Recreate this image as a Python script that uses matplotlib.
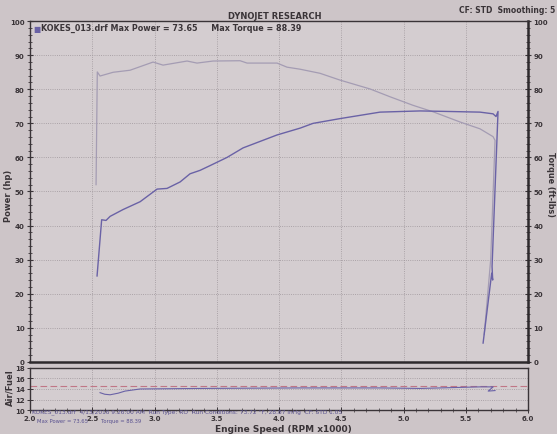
import matplotlib.pyplot as plt
from matplotlib.ticker import MultipleLocator

# engine speed in RPM x1000
torque_rpm = [2.53, 2.54, 2.562, 2.667, 2.803, 2.988, 3.068, 3.261, 3.341, 3.47, 3.687, 3.743,
              3.984, 4.064, 4.169, 4.329, 4.49, 4.731, 4.892, 5.076, 5.237, 5.454, 5.614, 5.719,
              5.735, 5.70, 5.648]
torque_val = [52.0, 85.1, 83.9, 85.0, 85.6, 88.0, 87.1, 88.3, 87.7, 88.3, 88.39, 87.7,
              87.7, 86.5, 85.9, 84.7, 82.7, 80.1, 77.8, 75.3, 73.4, 70.4, 68.4, 66.1,
              65.0, 30.0, 8.0]

power_rpm = [2.538, 2.575, 2.61, 2.643, 2.747, 2.884, 3.02, 3.10, 3.205, 3.285, 3.365, 3.446,
             3.582, 3.711, 3.984, 4.169, 4.273, 4.49, 4.811, 5.133, 5.349, 5.614, 5.719,
             5.743, 5.759, 5.711, 5.716, 5.708, 5.639]
power_val = [25.2, 41.7, 41.5, 42.7, 44.7, 47.0, 50.7, 50.9, 52.8, 55.2, 56.2, 57.6,
             60.0, 62.8, 66.6, 68.6, 70.0, 71.4, 73.3, 73.65, 73.5, 73.3, 72.8,
             72.0, 73.5, 28.0, 24.0, 26.0, 5.5]

afr_rpm = [2.562, 2.60, 2.643, 2.707, 2.763, 2.884, 3.365, 4.169, 4.811, 5.133, 5.454, 5.614,
           5.72, 5.68, 5.735]
afr_val = [13.3, 13.0, 12.9, 13.2, 13.6, 14.0, 14.1, 14.2, 14.2, 14.1, 14.3, 14.4,
           14.4, 13.6, 13.7]
afr_target = 14.6

paper = '#cdc5c8'
ink = '#3a3438'
pw_col = '#6a62a6'
tq_col = '#a49cb3'
grid_col = '#9d959a'

fig = plt.figure(figsize=(5.57, 4.35), dpi=100)
fig.patch.set_facecolor(paper)

ax = fig.add_axes([0.054, 0.166, 0.894, 0.783])
ax.set_facecolor('#d4cdd0')
ax.plot(torque_rpm, torque_val, color=tq_col, lw=0.9)
ax.plot(power_rpm, power_val, color=pw_col, lw=1.0)
ax.set_xlim(2.0, 6.0)
ax.set_ylim(0, 100)
ax.xaxis.set_major_locator(MultipleLocator(0.5))
ax.yaxis.set_major_locator(MultipleLocator(10))
ax.yaxis.set_minor_locator(MultipleLocator(2))
ax.grid(True, which='major', ls=':', color=grid_col, lw=0.6)
ax.tick_params(axis='x', bottom=False, labelbottom=False)
ax.tick_params(axis='y', which='both', direction='inout', left=True, right=True,
               labelleft=True, labelright=True, labelsize=5, colors=ink, pad=1.5)
ax.tick_params(axis='y', which='major', length=5, width=0.8)
ax.tick_params(axis='y', which='minor', length=3, width=0.6)
for lab in ax.get_yticklabels():
    lab.set_fontweight('bold')
for s in ['top', 'left']:
    ax.spines[s].set_color(ink)
    ax.spines[s].set_linewidth(1.0)
for s in ['bottom', 'right']:
    ax.spines[s].set_color('#2e2a2d')
    ax.spines[s].set_linewidth(1.8)

ax.text(0.006, 0.993, '\u25a0', transform=ax.transAxes, fontsize=5.5, color=pw_col,
        va='top', ha='left')
ax.text(0.022, 0.995, 'KOKES_013.drf Max Power = 73.65     Max Torque = 88.39',
        transform=ax.transAxes, fontsize=5.8, fontweight='bold', color=ink, va='top', ha='left')

fig.text(0.015, 0.55, 'Power (hp)', rotation=90, fontsize=6, fontweight='bold', color=ink,
         ha='center', va='center')
fig.text(0.988, 0.575, 'Torque (ft-lbs)', rotation=270, fontsize=5.8, fontweight='bold',
         color=ink, ha='center', va='center')
fig.text(0.494, 0.961, 'DYNOJET RESEARCH', fontsize=6, fontweight='bold', color=ink,
         ha='center', va='center')
fig.text(0.997, 0.977, 'CF: STD  Smoothing: 5', fontsize=5.5, fontweight='bold', color=ink,
         ha='right', va='center')

# air/fuel panel
ax2 = fig.add_axes([0.054, 0.055, 0.894, 0.097])
ax2.set_facecolor('#d4cdd0')
ax2.axhline(afr_target, color='#c07686', lw=0.8, ls=(0, (6, 3)))
ax2.plot(afr_rpm, afr_val, color=pw_col, lw=0.8)
ax2.set_xlim(2.0, 6.0)
ax2.set_ylim(10, 18)
ax2.set_yticks([10, 12, 14, 16, 18])
ax2.xaxis.set_minor_locator(MultipleLocator(0.1))
ax2.set_xticks([2.0, 2.5, 3.0, 3.5, 4.0, 4.5, 5.0, 5.5, 6.0])
ax2.set_xticklabels(['2.0', '2.5', '3.0', '3.5', '4.0', '4.5', '5.0', '5.5', '6.0'])
ax2.grid(True, which='major', ls=':', color=grid_col, lw=0.6)
ax2.tick_params(axis='both', which='both', direction='inout', labelsize=5, colors=ink, pad=1.5)
ax2.tick_params(axis='both', which='major', length=4, width=0.7)
ax2.tick_params(axis='x', which='minor', length=2.5, width=0.5)
for lab in ax2.get_xticklabels() + ax2.get_yticklabels():
    lab.set_fontweight('bold')
for s in ax2.spines.values():
    s.set_color(ink)
    s.set_linewidth(1.0)

fig.text(0.017, 0.108, 'Air/Fuel', rotation=90, fontsize=6, fontweight='bold', color=ink,
         ha='center', va='center')
fig.text(0.508, 0.012, 'Engine Speed (RPM x1000)', fontsize=6.5, fontweight='bold', color=ink,
         ha='center', va='center')

fig.text(0.058, 0.053, 'KOKES_013.drf  4/13/2016 9:26:00 AM  Run Type: RO  Run Conditions: '
         '73.72 \u00b0F, 28.87 inHg  CF: STD 1.05', fontsize=4.2, color='#5a5290',
         ha='left', va='center')
fig.text(0.066, 0.031, 'Max Power = 73.65', fontsize=3.8, color='#5a5290', ha='left', va='center')
fig.text(0.181, 0.031, 'Torque = 88.39', fontsize=3.8, color='#5a5290', ha='left', va='center')

fig.savefig('out.png', dpi=100, facecolor=fig.get_facecolor())
